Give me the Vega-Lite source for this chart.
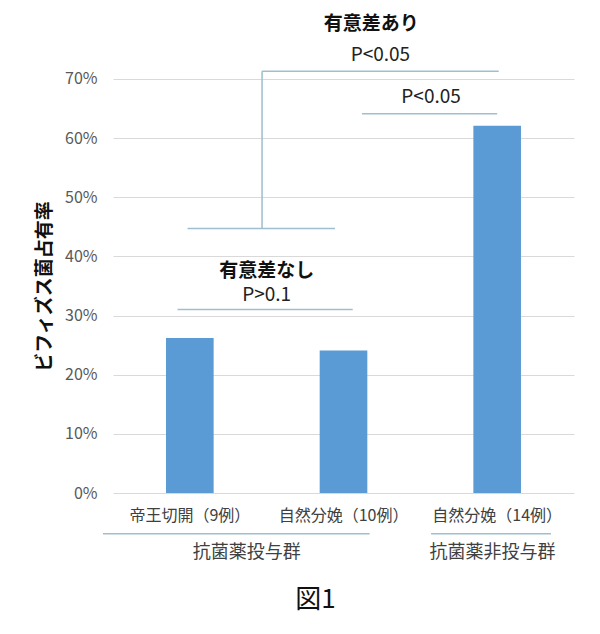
{
  "$schema": "https://vega.github.io/schema/vega-lite/v6.json",
  "width": 461,
  "height": 491,
  "autosize": "none",
  "padding": {"left": 113, "top": 2, "right": 26, "bottom": 141},
  "background": "white",
  "config": {"view": {"stroke": null}, "font": "Noto Sans CJK JP"},
  "title": {"text": "図1", "orient": "bottom", "fontSize": 26, "fontWeight": "normal", "color": "#111111", "dx": -28, "offset": 25, "font": "Noto Sans CJK JP"},
  "datasets": {
    "bars": [
      {"group": "帝王切開（9例）", "rate": 26.2},
      {"group": "自然分娩（10例）", "rate": 24.1},
      {"group": "自然分娩（14例）", "rate": 62.1}
    ],
    "lines": [
      {"x1": 0.97, "x2": 2.51, "y1": 71.3, "y2": 71.3},
      {"x1": 0.97, "x2": 0.97, "y1": 71.3, "y2": 44.7},
      {"x1": 0.485, "x2": 1.445, "y1": 44.7, "y2": 44.7},
      {"x1": 1.62, "x2": 2.5, "y1": 64.1, "y2": 64.1},
      {"x1": 0.42, "x2": 1.56, "y1": 31.0, "y2": 31.0},
      {"x1": -0.065, "x2": 1.67, "y1": -6.9, "y2": -6.9},
      {"x1": 2.07, "x2": 2.85, "y1": -6.9, "y2": -6.9}
    ],
    "sig": [
      {"x": 1.68, "y": 79.2, "label": "有意差あり"},
      {"x": 1.0, "y": 37.6, "label": "有意差なし"}
    ],
    "pvals": [
      {"x": 1.74, "y": 74.1, "label": "P<0.05"},
      {"x": 2.07, "y": 67.0, "label": "P<0.05"},
      {"x": 1.0, "y": 33.4, "label": "P>0.1"}
    ],
    "groups": [
      {"x": 0.87, "y": -10.2, "label": "抗菌薬投与群"},
      {"x": 2.47, "y": -10.2, "label": "抗菌薬非投与群"}
    ]
  },
  "layer": [
    {
      "data": {"name": "bars"},
      "mark": {"type": "bar", "color": "#5b9bd5"},
      "encoding": {
        "x": {
          "field": "group", "type": "nominal", "sort": null,
          "scale": {"paddingInner": 0.69, "paddingOuter": 0.345},
          "axis": {"title": null, "labelAngle": 0, "domain": false, "ticks": false, "labelFontSize": 16, "labelColor": "#404040", "labelPadding": 14, "labelFont": "Noto Sans CJK JP"}
        },
        "y": {
          "field": "rate", "type": "quantitative",
          "scale": {"domain": [0, 83], "nice": false},
          "axis": {
            "title": "ビフィズス菌占有率",
            "values": [0, 10, 20, 30, 40, 50, 60, 70],
            "labelExpr": "datum.value + '%'",
            "grid": true, "gridColor": "#d9d9d9", "domain": false, "ticks": false,
            "labelFontSize": 16, "labelColor": "#595959", "labelPadding": 16,
            "titleFontSize": 19, "titleFontWeight": "bold", "titleColor": "#111111", "titlePadding": 10, "titleY": 284
          }
        }
      }
    },
    {
      "data": {"name": "lines"},
      "mark": {"type": "rule", "color": "#9dbfcf", "strokeWidth": 1.5},
      "encoding": {
        "x": {"field": "x1", "type": "quantitative", "scale": {"domain": [0, 3], "nice": false}, "axis": null},
        "x2": {"field": "x2"},
        "y": {"field": "y1", "type": "quantitative"},
        "y2": {"field": "y2"}
      }
    },
    {
      "data": {"name": "sig"},
      "mark": {"type": "text", "fontSize": 19, "fontWeight": "bold", "color": "#111111", "align": "center", "baseline": "middle"},
      "encoding": {
        "x": {"field": "x", "type": "quantitative", "scale": {"domain": [0, 3], "nice": false}, "axis": null},
        "y": {"field": "y", "type": "quantitative"},
        "text": {"field": "label"}
      }
    },
    {
      "data": {"name": "pvals"},
      "mark": {"type": "text", "fontSize": 19, "color": "#222222", "align": "center", "baseline": "middle"},
      "encoding": {
        "x": {"field": "x", "type": "quantitative", "scale": {"domain": [0, 3], "nice": false}, "axis": null},
        "y": {"field": "y", "type": "quantitative"},
        "text": {"field": "label"}
      }
    },
    {
      "data": {"name": "groups"},
      "mark": {"type": "text", "fontSize": 18, "color": "#404040", "align": "center", "baseline": "middle"},
      "encoding": {
        "x": {"field": "x", "type": "quantitative", "scale": {"domain": [0, 3], "nice": false}, "axis": null},
        "y": {"field": "y", "type": "quantitative"},
        "text": {"field": "label"}
      }
    }
  ],
  "resolve": {"scale": {"x": "independent"}}
}
